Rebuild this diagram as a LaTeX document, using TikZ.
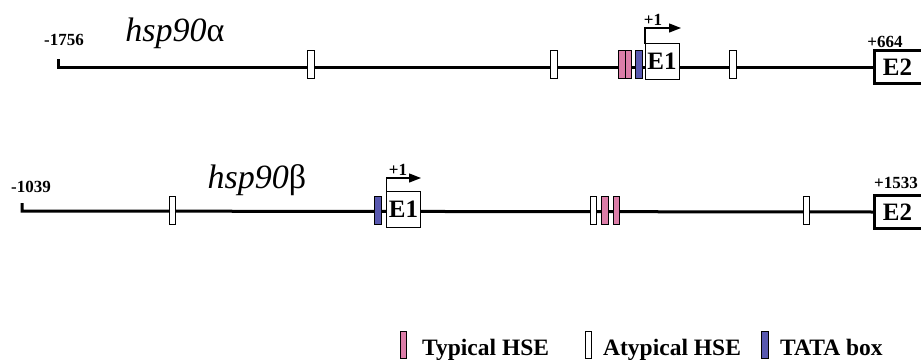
\documentclass[tikz,border=0pt]{standalone}
\usepackage{fontspec}
\setmainfont{Liberation Serif}
\usetikzlibrary{arrows.meta}
\definecolor{hsepink}{RGB}{220,125,168}
\definecolor{tatablue}{RGB}{88,88,175}
\begin{document}
\begin{tikzpicture}[x=1pt,y=-1pt,
  gene/.style={line width=3pt},
  elem/.style={draw, line width=0.8pt, minimum width=6.5pt, minimum height=28pt, inner sep=0pt, outer sep=0pt},
  typical/.style={elem, fill=hsepink},
  atypical/.style={elem, fill=white},
  tata/.style={elem, fill=tatablue},
  legbar/.style={elem, minimum height=27pt},
  exonone/.style={draw, fill=white, line width=1pt, inner sep=0pt, outer sep=0pt, minimum width=34pt, minimum height=36pt, font=\fontsize{25}{25}\selectfont\bfseries},
  exontwo/.style={inner sep=0pt, outer sep=0pt, minimum width=47pt, minimum height=33pt, font=\fontsize{25}{25}\selectfont\bfseries},
  exonframe/.style={line width=3pt},
  coordlabel/.style={font=\fontsize{17}{17}\selectfont\bfseries, inner sep=0pt},
  genename/.style={font=\fontsize{34}{34}\selectfont, inner sep=0pt},
  tss/.style={line width=1.3pt, -{Triangle[length=12pt,width=9pt]}},
  legtext/.style={anchor=base west, inner sep=0pt, font=\fontsize{23.5}{23.5}\selectfont\bfseries}
]
\useasboundingbox (0,0) rectangle (921,359);

% ---------- hsp90 alpha ----------
\node[exontwo] (a2) at (897.5,67) {E2};
\coordinate (at) at (58,59);
\coordinate (as) at (58,67);
\draw[gene] (at) -- (as) -- (a2.west);
\draw[exonframe] (a2.north east) -- (a2.north west) -- (a2.south west) -- (a2.south east);

\node[coordlabel] (apos) at (64,40) {-1756};
\node[coordlabel] (aend) at (885,42) {+664};
\node[genename] (aname) at (175,33) {\textit{hsp90}α};

\node[atypical] (aa1) at (311,64) {};
\node[atypical] (aa2) at (554,64) {};
\node[typical]  (ap1) at (622,64) {};
\node[typical]  (ap2) at (628.5,64) {};
\node[tata]     (at1) at (639,64) {};
\node[exonone]  (a1)  at (662,61.5) {E1};
\node[atypical] (aa3) at (733,64) {};

\coordinate (atip) at (681,28);
\draw[tss] (a1.north west) |- (atip);
\node[coordlabel] (aplus) at (653,20) {+1};

% ---------- hsp90 beta ----------
\node[exontwo] (b2) at (897.5,212) {E2};
\coordinate (bt) at (22,203);
\coordinate (bs) at (22,211);
\draw[gene] (bt) -- (bs) -- (b2.west);
\draw[exonframe] (b2.north east) -- (b2.north west) -- (b2.south west) -- (b2.south east);

\node[coordlabel] (bpos) at (31,187) {-1039};
\node[coordlabel] (bend) at (896,183) {+1533};
\node[genename] (bname) at (257,180) {\textit{hsp90}β};

\node[atypical] (ba1) at (172.5,210) {};
\node[tata]     (bt1) at (378,210) {};
\node[exonone]  (b1)  at (403.5,209.5) {E1};
\node[atypical] (ba2) at (593.5,210) {};
\node[typical]  (bp1) at (605,210) {};
\node[typical]  (bp2) at (616.5,210) {};
\node[atypical] (ba3) at (806.5,210) {};

\coordinate (btip) at (421,178);
\draw[tss] (b1.north west) |- (btip);
\node[coordlabel] (bplus) at (398,170) {+1};

% ---------- legend ----------
\node[legbar, fill=hsepink] (l1) at (403.5,345) {};
\node[legtext] (l1t) at (422,355) {Typical HSE};
\node[legbar, fill=white] (l2) at (588.5,345) {};
\node[legtext] (l2t) at (603,355) {Atypical HSE};
\node[legbar, fill=tatablue] (l3) at (765,345) {};
\node[legtext] (l3t) at (780,355) {TATA box};
\end{tikzpicture}
\end{document}
